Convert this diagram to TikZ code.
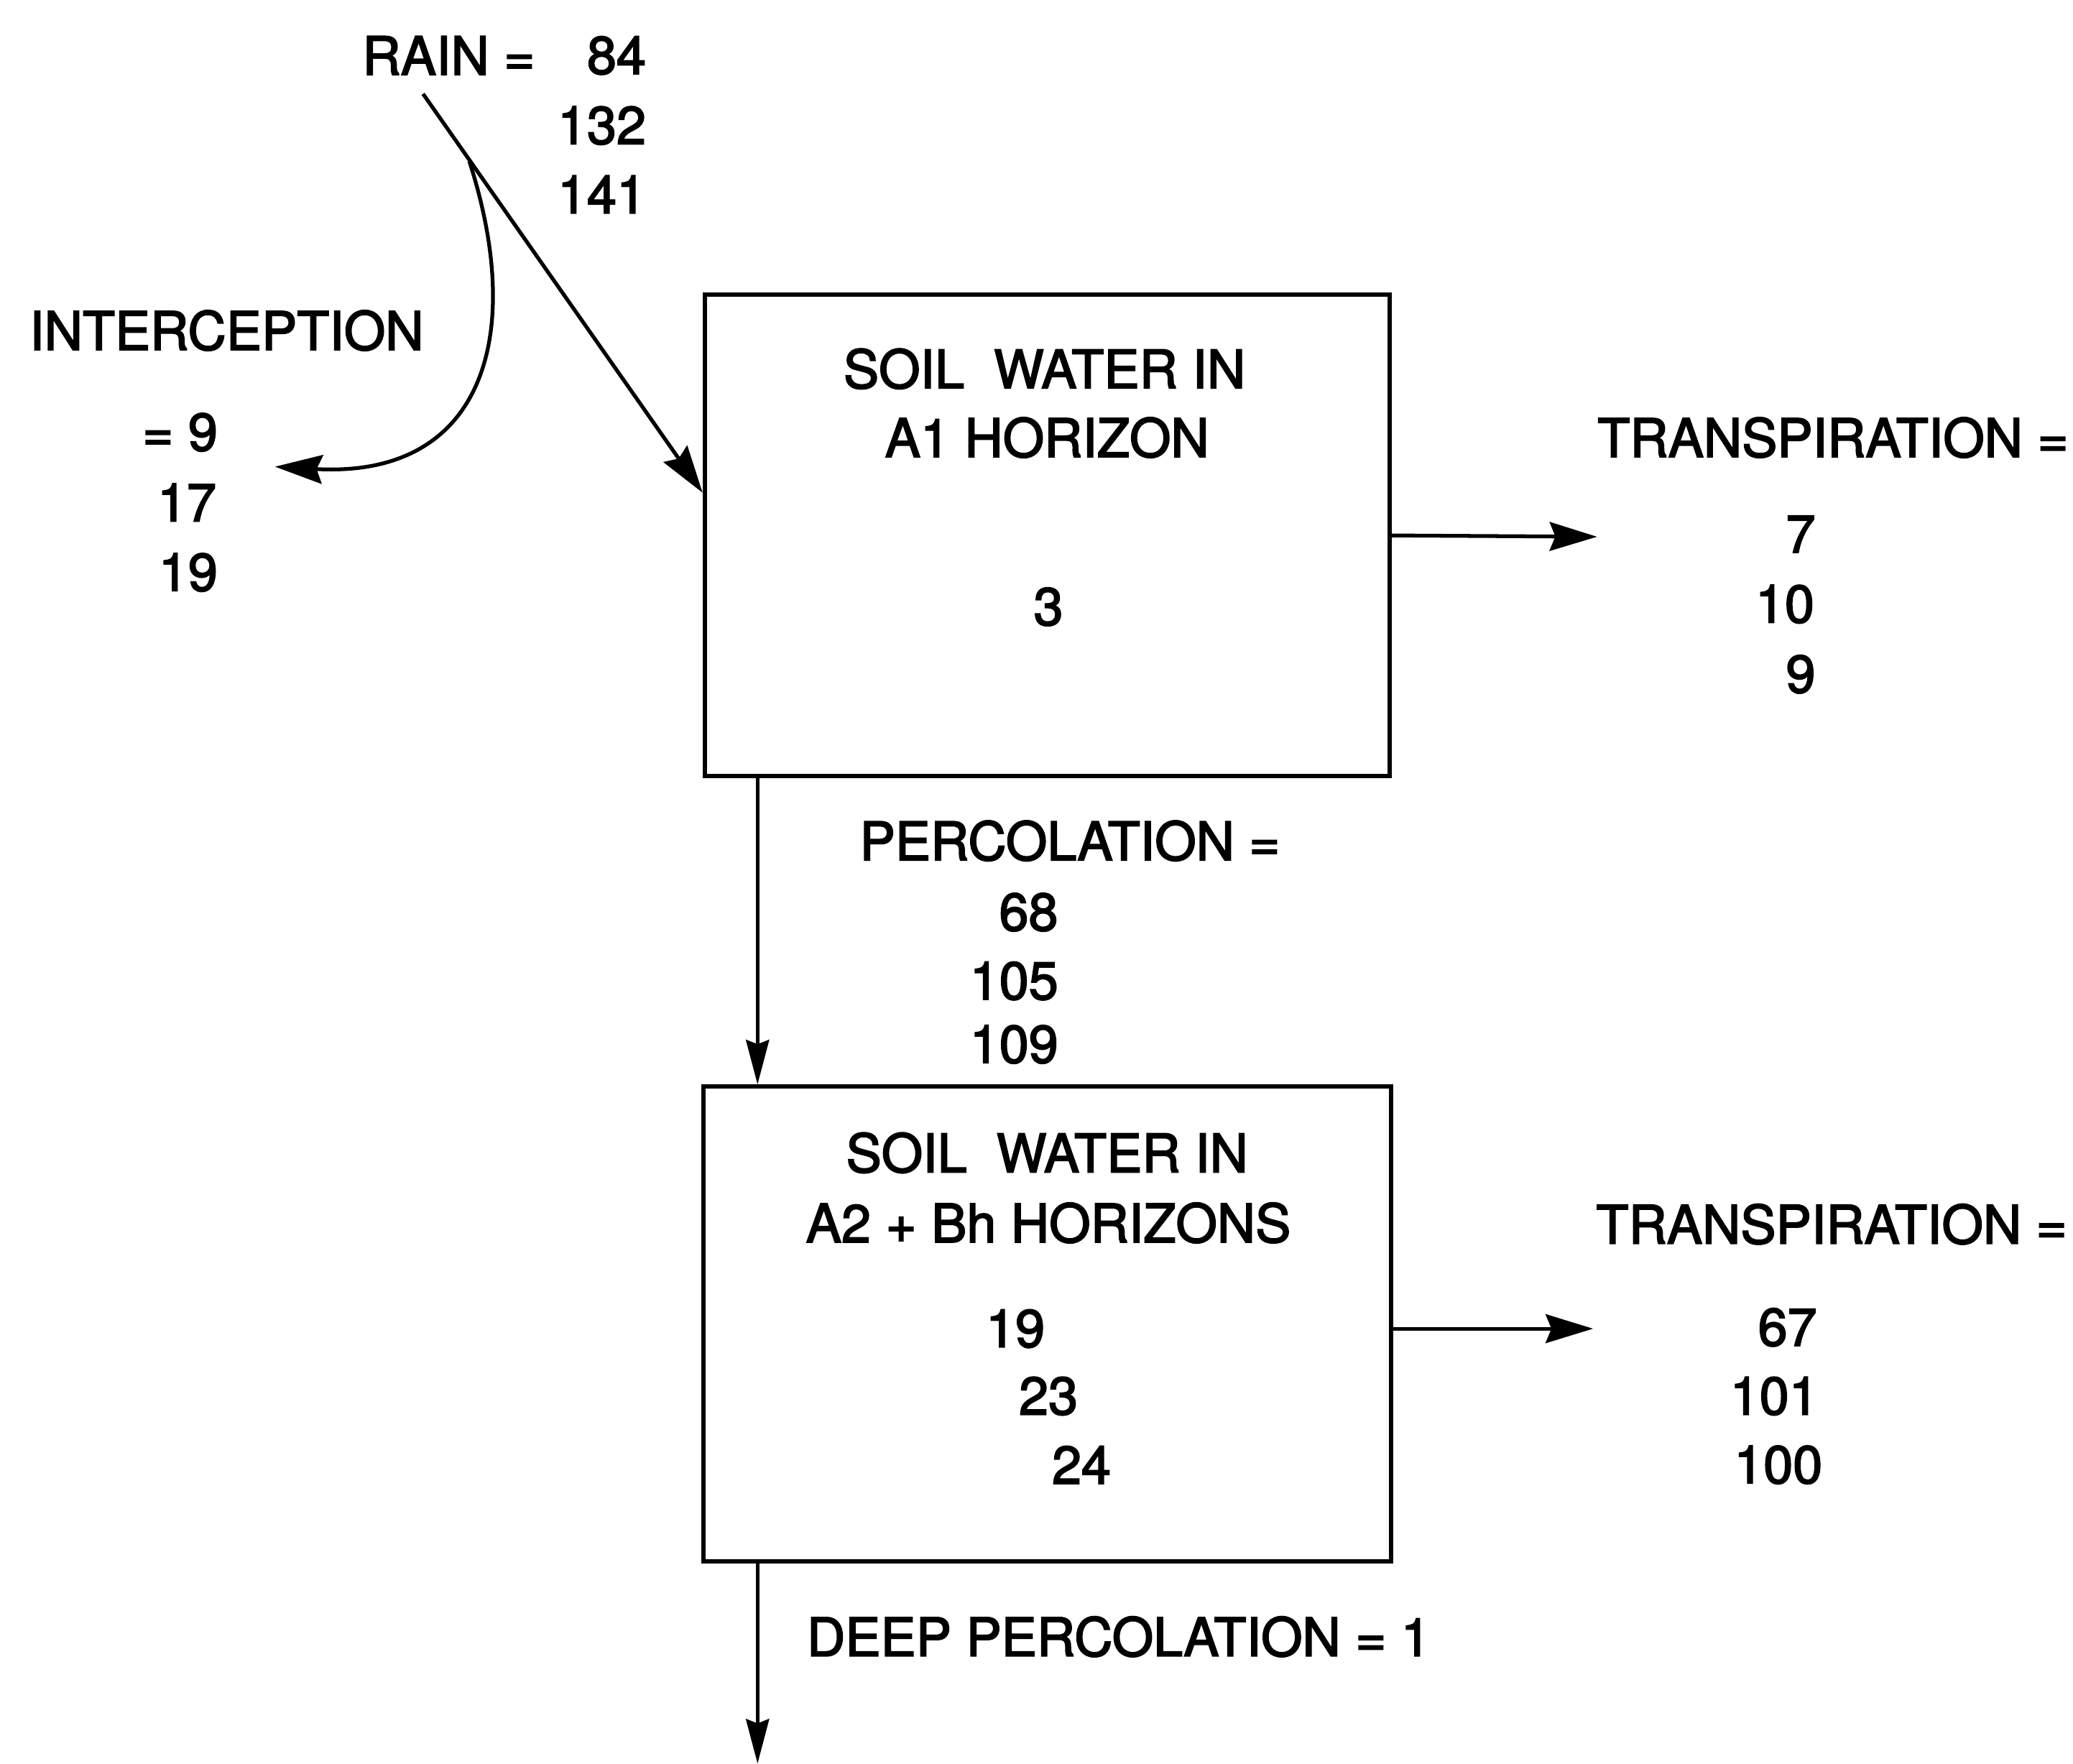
\documentclass[tikz,border=0pt]{standalone}
\usepackage{fontspec}
\setmainfont{TeX Gyre Heros}[BoldFont={TeX Gyre Heros}, BoldFeatures={FakeBold=2.5}]
\usetikzlibrary{arrows.meta,calc}
\begin{document}
\begin{tikzpicture}[x=0.0184cm,y=-0.0184cm,
  lbl/.style={inner sep=0pt, font=\fontsize{21}{24}\selectfont\bfseries},
  boxnode/.style={draw, line width=1.7pt, inner sep=0pt},
  flow/.style={line width=1.5pt, -{Stealth[length=0.66cm,width=0.4cm,inset=0.08cm]}},
  vflow/.style={line width=1.5pt, -{Stealth[length=0.62cm,width=0.32cm,inset=0.06cm]}}]
\useasboundingbox[fill=white] (0,0) rectangle (1568,1334);

% boxes
\node[boxnode, minimum width=9.53cm, minimum height=6.70cm] (box1) at (792,405) {};
\node[boxnode, minimum width=9.57cm, minimum height=6.61cm] (box2) at (792,1001.5) {};

% rain
\node[lbl, anchor=east] (rain) at (405,42) {RAIN =};
\node[lbl, anchor=east] (r1) at (489,42) {84};
\node[lbl, anchor=east] (r2) at (489,95) {132};
\node[lbl, anchor=east] (r3) at (489,147) {141};

% interception
\node[lbl, anchor=west] (icp) at (22,250) {INTERCEPTION};
\node[lbl, anchor=east] (i1) at (165,327) {= 9};
\node[lbl, anchor=east] (i2) at (164,380) {17};
\node[lbl, anchor=east] (i3) at (165,433) {19};

% box 1 texts
\node[lbl] (b1a) at (790,279) {SOIL\ \ WATER IN};
\node[lbl] (b1b) at (792,331) {A1 HORIZON};
\node[lbl] (b1c) at (793,459) {3};

% transpiration 1
\node[lbl, anchor=west] (tr1) at (1208,331) {TRANSPIRATION =};
\node[lbl] (t1a) at (1362,404) {7};
\node[lbl] (t1b) at (1350,457) {10};
\node[lbl] (t1c) at (1362,510) {9};

% percolation
\node[lbl, anchor=west] (perc) at (650,636) {PERCOLATION =};
\node[lbl] (p1) at (778,690) {68};
\node[lbl] (p2) at (767,742) {105};
\node[lbl] (p3) at (767,790) {109};

% box 2 texts
\node[lbl] (b2a) at (792,872) {SOIL\ \ WATER IN};
\node[lbl] (b2b) at (793,925) {A2 + Bh HORIZONS};
\node[lbl] (b2c) at (768,1005) {19};
\node[lbl] (b2d) at (793,1056) {23};
\node[lbl] (b2e) at (818,1108) {24};

% transpiration 2
\node[lbl, anchor=west] (tr2) at (1207,926) {TRANSPIRATION =};
\node[lbl] (t2a) at (1352,1004) {67};
\node[lbl] (t2b) at (1342,1056) {101};
\node[lbl] (t2c) at (1345,1108) {100};

% deep percolation
\node[lbl, anchor=west] (deep) at (610,1238) {DEEP PERCOLATION = 1};

% coordinates
\coordinate (rainstart) at (320,71);
\coordinate (branch) at (355,122);
\coordinate (itip) at (208,353);
\coordinate (rainhit) at ($(box1.north west)!0.412!(box1.south west)$);
\coordinate (px) at (573,0);
\coordinate (t1end) at (1208,406);
\coordinate (t2end) at (1205,1005);
\coordinate (deepend) at (573,1334);

% connectors
\draw[flow] (rainstart) -- (rainhit);
\draw[flow] (branch) .. controls (398,255) and (365,362) .. (itip);
\draw[flow] (box1.east) -- (t1end);
\draw[flow] (box2.east |- t2end) -- (t2end);
\draw[vflow] (box1.south -| px) -- (box2.north -| px);
\draw[vflow] (box2.south -| px) -- (deepend);
\end{tikzpicture}
\end{document}
